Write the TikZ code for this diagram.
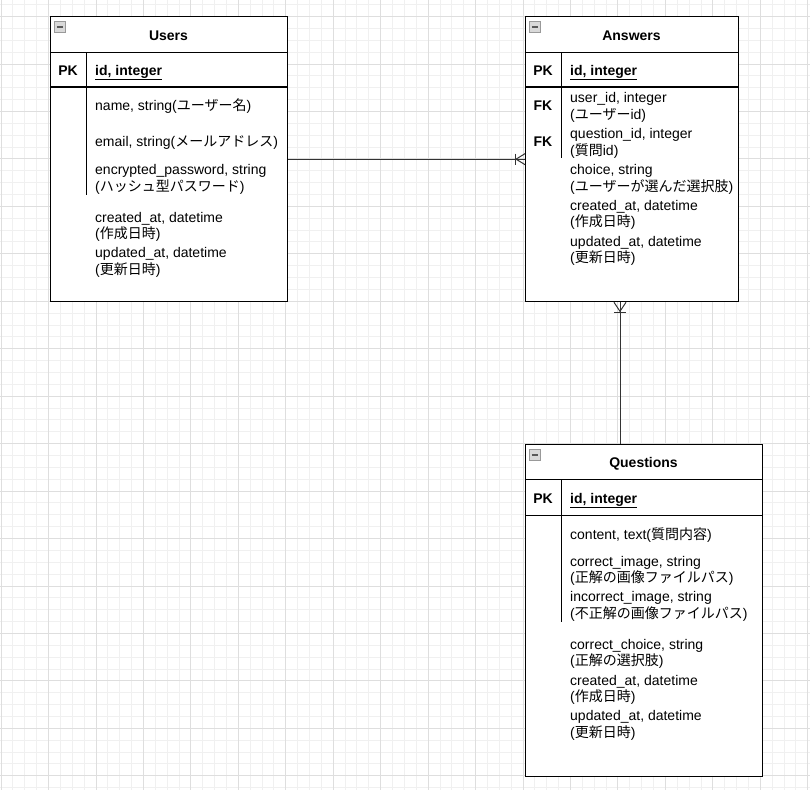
\documentclass[tikz,border=0pt]{standalone}
\usepackage{fontspec}
\setmainfont{Liberation Sans}
\newfontfamily\jp{Noto Sans CJK JP}
\usetikzlibrary{calc}
\newcommand{\J}[1]{{\jp #1}}
\begin{document}
\begin{tikzpicture}[x=1pt,y=-1pt,
  minorgrid/.style={draw=black!6, line width=0.8pt},
  majorgrid/.style={draw=black!13, line width=0.8pt},
  tbl/.style={draw=black, line width=1.3pt, anchor=north west, inner sep=0pt, fill=white},
  sepline/.style={draw=black, line width=1pt},
  pkline/.style={draw=black, line width=1.6pt},
  conn/.style={draw=black!80, line width=1pt},
  fld/.style={anchor=base west, inner sep=0pt, align=left, font=\fontsize{14}{16.7}\selectfont},
  ttl/.style={anchor=base, inner sep=0pt, font=\fontsize{14}{16}\selectfont\bfseries},
  keylbl/.style={anchor=base, inner sep=0pt, font=\fontsize{14}{16}\selectfont\bfseries},
  pkfld/.style={anchor=base west, inner sep=0pt, font=\fontsize{14}{16}\selectfont\bfseries},
  icon/.style={draw=black!40, fill=black!15, line width=0.6pt, minimum size=11pt, inner sep=0pt, anchor=north west},
  iconbar/.style={draw=black!65, line width=1.6pt}
]
\useasboundingbox (0,0) rectangle (810,790);
\fill[white] (0,0) rectangle (810,790);
% grid
\foreach \i in {0,...,68} {\draw[minorgrid] ({1+11.8625*\i},0) -- ({1+11.8625*\i},790);}
\foreach \i in {0,...,66} {\draw[minorgrid] (0,{4.64+11.8625*\i}) -- (810,{4.64+11.8625*\i});}
\foreach \i in {0,...,17} {\draw[majorgrid] ({1+47.45*\i},0) -- ({1+47.45*\i},790);}
\foreach \i in {0,...,16} {\draw[majorgrid] (0,{16.5+47.45*\i}) -- (810,{16.5+47.45*\i});}

% ---------- Users ----------
\node[tbl, minimum width=237pt, minimum height=285pt] (users) at (50,16) {};
\draw[sepline] (50,52) -- (287,52);
\draw[pkline] (50,87) -- (287,87);
\draw[sepline] (86,52) -- (86,195);
\node[icon] (uicon) at (54,21) {};
\draw[iconbar] ([xshift=-3pt]uicon.center) -- ([xshift=3pt]uicon.center);
\node[ttl] (utitle) at (168.5,40) {Users};
\node[keylbl] (upk) at (68,75) {PK};
\node[pkfld] (uid) at (95,75) {\underline{id, integer}};
\node[fld] (uname) at (95,110.7) {name, string(\J{ユーザー名})};
\node[fld] (uemail) at (95,146.7) {email, string(\J{メールアドレス})};
\node[fld] (upass) at (95,191) {encrypted\_password, string\\(\J{ハッシュ型パスワード})};
\node[fld] (ucreated) at (95,238.7) {created\_at, datetime\\(\J{作成日時})};
\node[fld] (uupdated) at (95,274) {updated\_at, datetime\\(\J{更新日時})};

% ---------- Answers ----------
\node[tbl, minimum width=213pt, minimum height=285pt] (answers) at (525,16) {};
\draw[sepline] (525,52) -- (738,52);
\draw[pkline] (525,87) -- (738,87);
\draw[sepline] (561,52) -- (561,158);
\node[icon] (aicon) at (529,21) {};
\draw[iconbar] ([xshift=-3pt]aicon.center) -- ([xshift=3pt]aicon.center);
\node[ttl] (atitle) at (631.5,40) {Answers};
\node[keylbl] (apk) at (543,75) {PK};
\node[pkfld] (aid) at (570,75) {\underline{id, integer}};
\node[keylbl] (afk1) at (543,110.7) {FK};
\node[keylbl] (afk2) at (543,146.7) {FK};
\node[fld] (auser) at (570,119.4) {user\_id, integer\\(\J{ユーザー}id)};
\node[fld] (aquest) at (570,155) {question\_id, integer\\(\J{質問}id)};
\node[fld] (achoice) at (570,191) {choice, string\\(\J{ユーザーが選んだ選択肢})};
\node[fld] (acreated) at (570,226.7) {created\_at, datetime\\(\J{作成日時})};
\node[fld] (aupdated) at (570,262.7) {updated\_at, datetime\\(\J{更新日時})};

% ---------- Questions ----------
\node[tbl, minimum width=237pt, minimum height=332pt] (questions) at (525,444) {};
\draw[sepline] (525,479) -- (762,479);
\draw[sepline] (525,515) -- (762,515);
\draw[sepline] (561,479) -- (561,622);
\node[icon] (qicon) at (529,449) {};
\draw[iconbar] ([xshift=-3pt]qicon.center) -- ([xshift=3pt]qicon.center);
\node[ttl] (qtitle) at (643.5,467.3) {Questions};
\node[keylbl] (qpk) at (543,503.3) {PK};
\node[pkfld] (qid) at (570,503.3) {\underline{id, integer}};
\node[fld] (qcontent) at (570,539.3) {content, text(\J{質問内容})};
\node[fld] (qcimg) at (570,582.7) {correct\_image, string\\(\J{正解の画像ファイルパス})};
\node[fld] (qiimg) at (570,618.4) {incorrect\_image, string\\(\J{不正解の画像ファイルパス})};
\node[fld] (qchoice) at (570,665.7) {correct\_choice, string\\(\J{正解の選択肢})};
\node[fld] (qcreated) at (570,701.7) {created\_at, datetime\\(\J{作成日時})};
\node[fld] (qupdated) at (570,737.4) {updated\_at, datetime\\(\J{更新日時})};

% ---------- connectors ----------
\draw[conn] (users.east) -- (answers.west);
\draw[conn] ($(answers.west)+(-9,0)$) -- ($(answers.west)+(0,-5.5)$);
\draw[conn] ($(answers.west)+(-9,0)$) -- ($(answers.west)+(0,5.5)$);
\draw[conn] ($(answers.west)+(-9.5,-5.5)$) -- ($(answers.west)+(-9.5,5.5)$);

\coordinate (vx) at (620,0);
\coordinate (ab) at (answers.south -| vx);
\coordinate (qt) at (questions.north -| vx);
\draw[conn] (ab) -- (qt);
\draw[conn] ($(ab)+(-6,0)$) -- ($(ab)+(0,9)$) -- ($(ab)+(6,0)$);
\draw[conn] ($(ab)+(-6,10.5)$) -- ($(ab)+(6,10.5)$);
\end{tikzpicture}
\end{document}
